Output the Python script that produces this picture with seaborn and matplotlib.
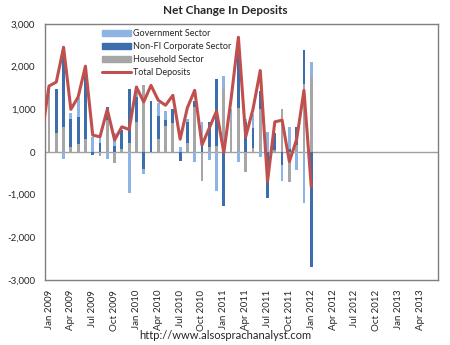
import numpy as np
import pandas as pd
import matplotlib
matplotlib.use("Agg")
import matplotlib.pyplot as plt
import seaborn as sns

# Monthly net change in deposits, Jan 2009 - Jan 2012
months = pd.date_range("2009-01-01", "2012-01-01", freq="MS")

government = [70, 0, -170, 140, 440, 50, 350, 150, -170, 300, 0, -960,
              250, -120, 0, 300, 200, 0, 120, 80, -230, 520, -190, -925,
              290, 270, -225, 80, 330, -120, 460, 0, -370, 510, -420, -1190,
              350]
corporate = [0, 1030, 1800, 670, 640, 1520, -60, 200, 300, 150, 450, 1280,
             600, -400, 1200, 550, 150, 330, -210, 500, 150, 190, 580, 1550,
             -1260, 0, 1500, 700, 470, 435, -1070, 400, -300, 80, 430, 790,
             -2700]
household = [1480, 450, 575, 115, 190, 310, 0, -90, 745, -250, 60, 200,
             700, 1560, 0, 300, 600, 670, 0, 200, 1050, -690, 120, 150,
             1485, 745, 1020, -460, 85, 1000, 0, 50, 1000, -710, 160, 1600,
             1755]

# Total deposits line, starting one month earlier (Dec 2008)
total_months = pd.date_range("2008-12-01", "2012-01-01", freq="MS")
total = [370, 1546, 1640, 2455, 1000, 1290, 2012, 396, 357, 1000, 280, 590,
         528, 1523, 1173, 1562, 1212, 1095, 1329, 300, 1041, 1445, 163, 560,
         960, -15, 1250, 2690, 357, 1000, 1911, -690, 707, 746, -225, 300,
         1445, -808]

tick_dates = pd.date_range("2009-01-01", "2013-04-01", freq="3MS")
tick_labels = [d.strftime("%b %Y") for d in tick_dates]

series_names = ["Government Sector", "Non-FI Corporate Sector", "Household Sector"]
colors = {"Government Sector": "#8DB4E2",
          "Non-FI Corporate Sector": "#3C6EAE",
          "Household Sector": "#A6A6A6"}

sns.set_style("white")
plt.rcParams["font.family"] = ["Lato", "DejaVu Sans"]

base = pd.Timestamp("2009-01-01")
def month_index(dates):
    return np.array([(d.year - base.year) * 12 + d.month - base.month for d in dates], float)

x = month_index(months)
xt = month_index(total_months)

fig = plt.figure(figsize=(4.5, 3.45), dpi=100)
ax = fig.add_axes([0.1, 0.1884, 0.8733, 0.742])

# Stack positives upward and negatives downward: household, corporate, government
stack_order = [("Household Sector", household),
               ("Non-FI Corporate Sector", corporate),
               ("Government Sector", government)]
pos_base = np.zeros(len(x))
neg_base = np.zeros(len(x))
bar_w = 0.38
for name, vals in stack_order:
    v = np.array(vals, float)
    pos = np.where(v > 0, v, 0)
    neg = np.where(v < 0, v, 0)
    ax.bar(x, pos, bottom=pos_base, width=bar_w, color=colors[name], linewidth=0, zorder=2)
    ax.bar(x, neg, bottom=neg_base, width=bar_w, color=colors[name], linewidth=0, zorder=2)
    pos_base += pos
    neg_base += neg

df_total = pd.DataFrame({"x": xt, "Total Deposits": total})
sns.lineplot(data=df_total, x="x", y="Total Deposits", ax=ax, color="#C0504D",
             linewidth=2.2, zorder=3, legend=False)

ax.axhline(0, color="#A0A0A0", linewidth=1.0, zorder=1)

ax.set_xlim(-0.55, 53.4)
ax.set_ylim(-3000, 3000)
ax.set_yticks(np.arange(-3000, 3001, 1000))
ax.set_yticklabels([f"{int(v):,}" for v in np.arange(-3000, 3001, 1000)], fontsize=7)
ax.set_xticks(month_index(tick_dates))
ax.set_xticklabels(tick_labels, rotation=90, fontsize=7)
ax.tick_params(axis="both", length=0, pad=7)
ax.set_xlabel("")
ax.set_ylabel("")
for s in ax.spines.values():
    s.set_color("#7F7F7F")
    s.set_linewidth(1.0)

handles = [plt.Rectangle((0, 0), 1, 1, color=colors[n]) for n in series_names]
handles.append(plt.Line2D([0], [0], color="#C0504D", linewidth=2.2))
labels = series_names + ["Total Deposits"]
ax.legend(handles, labels, loc="upper left", bbox_to_anchor=(0.135, 0.995),
          frameon=False, fontsize=6.5, handlelength=3.2, handleheight=0.6,
          handletextpad=0.3, labelspacing=0.45, borderaxespad=0)

fig.text(0.5, 0.97, "Net Change In Deposits", ha="center", va="center",
         fontsize=8.5, fontweight="bold")
fig.text(0.5, 0.027, "http://www.alsosprachanalyst.com", ha="center", va="center",
         fontsize=8)

fig.savefig("out.png", dpi=100)
